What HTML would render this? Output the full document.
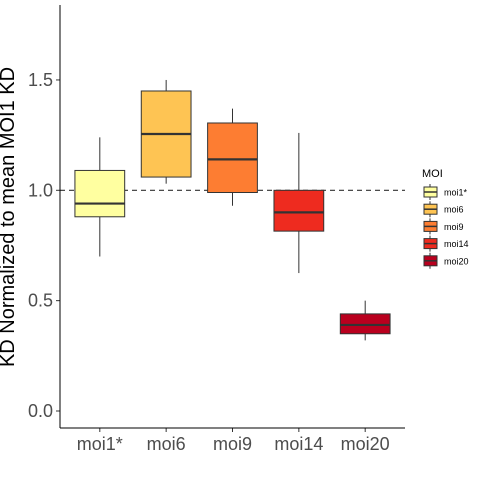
<!DOCTYPE html>
<html><head><meta charset="utf-8"><style>body{margin:0;background:#fff}svg{display:block;font-family:"Liberation Sans",sans-serif}</style></head>
<body>
<svg id="chart" width="480" height="480" viewBox="0 0 480 480">
<g id="plot"></g>
<text x="14" y="217" transform="rotate(-90 14 217)" text-anchor="middle" font-size="20" fill="#000">KD Normalized to mean MOI1 KD</text>
<g id="legend">
<text x="422" y="177" font-size="11" fill="#000">MOI</text>
</g>
</svg>
<script>
const categories=["moi1*","moi6","moi9","moi14","moi20"];
const whiskerLow=[0.70,1.03,0.93,0.625,0.32];
const q1=[0.88,1.06,0.99,0.815,0.35];
const medians=[0.94,1.255,1.14,0.90,0.39];
const q3=[1.09,1.45,1.305,1.0,0.44];
const whiskerHigh=[1.24,1.50,1.37,1.26,0.50];
const colors=["#FFFFA0","#FEC453","#FD7D32","#EE2B1F","#B9001E"];
const yTicks=[0,0.5,1.0,1.5];
const yTickLabels=["0.0","0.5","1.0","1.5"];
const refLine=1.0;
const NS="http://www.w3.org/2000/svg";
const pLeft=60,pRight=405,pTop=5,pBottom=428;
const yScale=v=>411-v*220.7;
const xs=i=>pLeft+(i+0.6)*((pRight-pLeft)/5.2);
const bw=0.75*((pRight-pLeft)/5.2);
const plot=document.getElementById('plot');
function mk(tag,attrs,parent){const e=document.createElementNS(NS,tag);for(const k in attrs)e.setAttribute(k,attrs[k]);parent.appendChild(e);return e;}
let rl=mk('line',{x1:pLeft,x2:pRight,y1:yScale(refLine),y2:yScale(refLine),stroke:'#333','stroke-width':1.2,'stroke-dasharray':'5,4'},plot);


categories.forEach((c,i)=>{
 const g=mk('g',{},plot);
 
 
 const cx=xs(i);
 mk('line',{x1:cx,x2:cx,y1:yScale(whiskerLow[i]),y2:yScale(q1[i]),stroke:'#333','stroke-width':1},g);
 mk('line',{x1:cx,x2:cx,y1:yScale(q3[i]),y2:yScale(whiskerHigh[i]),stroke:'#333','stroke-width':1},g);
 mk('rect',{x:cx-bw/2,y:yScale(q3[i]),width:bw,height:yScale(q1[i])-yScale(q3[i]),fill:colors[i],stroke:'#333','stroke-width':1},g);
 mk('line',{x1:cx-bw/2,x2:cx+bw/2,y1:yScale(medians[i]),y2:yScale(medians[i]),stroke:'#333','stroke-width':2.2},g);
 const t=mk('text',{x:cx,y:pBottom+22,'text-anchor':'middle','font-size':18,fill:'#4d4d4d'},plot);
 t.textContent=c;
 
 
 mk('line',{x1:cx,x2:cx,y1:pBottom,y2:pBottom+4,stroke:'#333'},plot);
 const ly=192+i*17.2;
 const lg=mk('g',{},document.getElementById('legend'));
 
 
 mk('line',{x1:430,x2:430,y1:ly-8,y2:ly+8,stroke:'#333'},lg);
 mk('rect',{x:424,y:ly-5,width:13,height:10,fill:colors[i],stroke:'#333'},lg);
 mk('line',{x1:424,x2:437,y1:ly,y2:ly,stroke:'#333','stroke-width':1.5},lg);
 const lt=mk('text',{x:444,y:ly+3.5,'font-size':9,fill:'#000'},lg);
 lt.textContent=c;
});
yTicks.forEach((v,i)=>{
 mk('line',{x1:pLeft-4,x2:pLeft,y1:yScale(v),y2:yScale(v),stroke:'#333'},plot);
 const t=mk('text',{x:pLeft-7,y:yScale(v)+6,'text-anchor':'end','font-size':18,fill:'#4d4d4d'},plot);
 t.textContent=yTickLabels[i];
 
 
});
let ax=mk('line',{x1:pLeft,x2:pLeft,y1:pTop,y2:pBottom,stroke:'#000','stroke-width':1},plot);


let ax2=mk('line',{x1:pLeft,x2:pRight,y1:pBottom,y2:pBottom,stroke:'#000','stroke-width':1},plot);


</script>
</body></html>
